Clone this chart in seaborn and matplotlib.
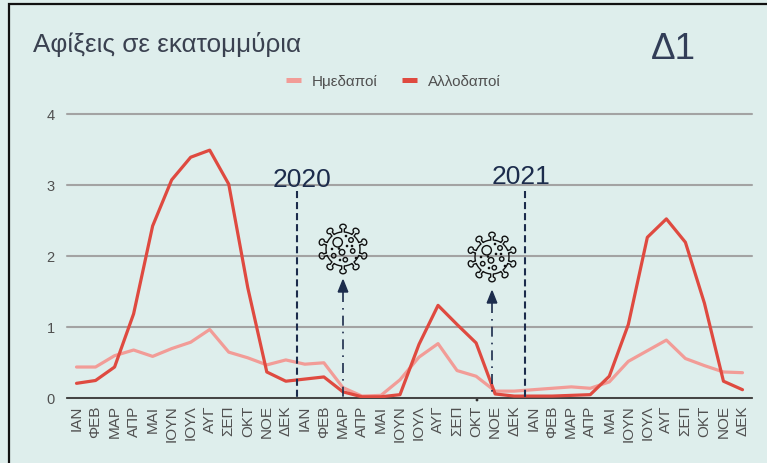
import numpy as np
import pandas as pd
import matplotlib
matplotlib.use("Agg")
import matplotlib.pyplot as plt
from matplotlib.lines import Line2D
from matplotlib.patches import Circle, Polygon
import seaborn as sns

months = ["ΙΑΝ","ΦΕΒ","ΜΑΡ","ΑΠΡ","ΜΑΙ","ΙΟΥΝ","ΙΟΥΛ","ΑΥΓ","ΣΕΠ","ΟΚΤ","ΝΟΕ","ΔΕΚ"]
tick_labels = months * 3
domestic = [0.43,0.43,0.59,0.67,0.58,0.69,0.78,0.96,0.64,0.56,0.46,0.53,
            0.47,0.49,0.14,0.02,0.03,0.25,0.57,0.76,0.38,0.30,0.09,0.09,
            0.11,0.13,0.15,0.13,0.22,0.51,0.66,0.81,0.55,0.45,0.36,0.35]
foreign = [0.20,0.24,0.43,1.18,2.42,3.07,3.39,3.49,3.01,1.55,0.36,0.23,
           0.26,0.29,0.08,0.01,0.01,0.04,0.75,1.30,1.03,0.77,0.05,0.02,
           0.02,0.02,0.03,0.04,0.30,1.03,2.26,2.52,2.19,1.33,0.23,0.11]
series_names = ["Ημεδαποί", "Αλλοδαποί"]
colors = ["#f29c97", "#df4a40"]

BG = "#deeeec"
NAVY = "#1c2c4c"
sns.set_theme(style="white")
plt.rcParams["font.family"] = ["Liberation Sans", "DejaVu Sans"]

W, H = 767, 464
fig = plt.figure(figsize=(W/100, H/100), dpi=100, facecolor=BG)
ax = fig.add_axes([67/W, 1-398.5/H, 685/W, 283.5/H], facecolor=BG)

n = len(tick_labels)
df = pd.DataFrame({
    "i": list(range(n))*2,
    "v": domestic+foreign,
    "s": [series_names[0]]*n+[series_names[1]]*n,
})
sns.lineplot(data=df, x="i", y="v", hue="s", palette=dict(zip(series_names, colors)),
             linewidth=2.3, ax=ax, legend=False, zorder=3)
ax.set_xlim(-0.5, n-0.5)
ax.set_ylim(0, 4)
ax.set_xlabel(""); ax.set_ylabel("")
ax.set_yticks([0,1,2,3,4])
ax.set_xticks(range(n))
ax.set_xticklabels(tick_labels, rotation=90, fontsize=11, color="#505050")
ax.tick_params(axis="x", length=0, pad=5)
ax.tick_params(axis="y", length=0, pad=9, labelsize=10.5, labelcolor="#505050")
ax.grid(axis="y", color="#a3a3a3", linewidth=1.5)
for g in ax.get_ygridlines():
    g.set_clip_on(False)
ax.set_axisbelow(True)
for s in ["top","right","left"]:
    ax.spines[s].set_visible(False)
ax.spines["bottom"].set_color("#333333")
ax.spines["bottom"].set_linewidth(1.2)

handles = [Line2D([0],[0],color=c,lw=3.6,solid_capstyle="butt") for c in colors]
fig.legend(handles, series_names, loc="center", bbox_to_anchor=(393/W, 1-82/H), ncol=2,
           frameon=False, fontsize=11, labelcolor="#505050", handlelength=1.0,
           handletextpad=0.7, columnspacing=1.6)

# overlay in pixel space for annotations
ov = fig.add_axes([0,0,1,1], facecolor="none")
ov.set_xlim(0,W); ov.set_ylim(H,0); ov.axis("off")
ov.plot([8.5,8.5,W],[H,4.5,4.5],color="#111111",lw=1.6,solid_joinstyle="miter")
ov.text(33,52,"Αφίξεις σε εκατομμύρια",fontsize=18.8,color="#3a4150",ha="left",va="baseline")
ov.text(651,59,"Δ1",fontsize=26.5,color="#323e58",ha="left",va="baseline")
ov.text(301.5,187,"2020",fontsize=19,color=NAVY,ha="center",va="baseline")
ov.text(521,184,"2021",fontsize=19,color=NAVY,ha="center",va="baseline")

for x in [297,525]:
    ov.plot([x,x],[192,398],color=NAVY,lw=1.5,dashes=(3.4,1.9))
for x,ytop in [(343,293),(492,304)]:
    ov.plot([x,x],[ytop,398],color=NAVY,lw=1.2,dashes=(6,3.6,1,3.6))
    ov.add_patch(Polygon([[x,ytop-12],[x-4.8,ytop],[x+4.8,ytop]],closed=True,color=NAVY))
ov.add_patch(Circle((477,401),0.7,color="#333333"))

def virus(cx,cy):
    k = "#111111"; lw = 1.0
    body, stalk, reach = 17.0, 1.3, 20.0
    nsp = 10
    pts = []
    da = 2*np.pi/nsp
    for j in range(nsp):
        a = np.deg2rad(18) + j*da
        u = np.array([np.cos(a), np.sin(a)])
        v = np.array([-u[1], u[0]])
        half = stalk/body
        cap = [(body, -stalk), (reach, -stalk)]
        for t in np.linspace(np.pi*1.2, -np.pi*0.2, 16):
            cap.append((reach + 2.2 + 2.6*np.sin(t), 3.2*np.cos(t)))
        cap += [(reach, stalk), (body, stalk)]
        for rr, vv in cap:
            pts.append(u*rr + v*vv)
        for b in np.linspace(a+half, a+da-half, 10):
            pts.append(body*np.array([np.cos(b), np.sin(b)]))
    pts = np.array(pts) + [cx, cy]
    ov.add_patch(Polygon(pts, closed=True, fill=False, ec=k, lw=lw, joinstyle="round"))
    for dx,dy,rr in [(-5.3,-6.7,4.7),(8,-9,2.3),(-1,3.3,2.8),(9.7,2,2.2),(2.3,10.7,2.2),(-9.3,6.7,2.2)]:
        ov.add_patch(Circle((cx+dx,cy+dy),rr,fill=False,ec=k,lw=lw))
    for dx,dy in [(3,-13),(-11,0),(4,-3),(13,9),(-3,11),(-4,-0.5),(9,-3)]:
        ov.add_patch(Circle((cx+dx,cy+dy),0.6,color=k))

virus(343,250)
virus(492,258)

fig.savefig("out.png",dpi=100,facecolor=fig.get_facecolor())
